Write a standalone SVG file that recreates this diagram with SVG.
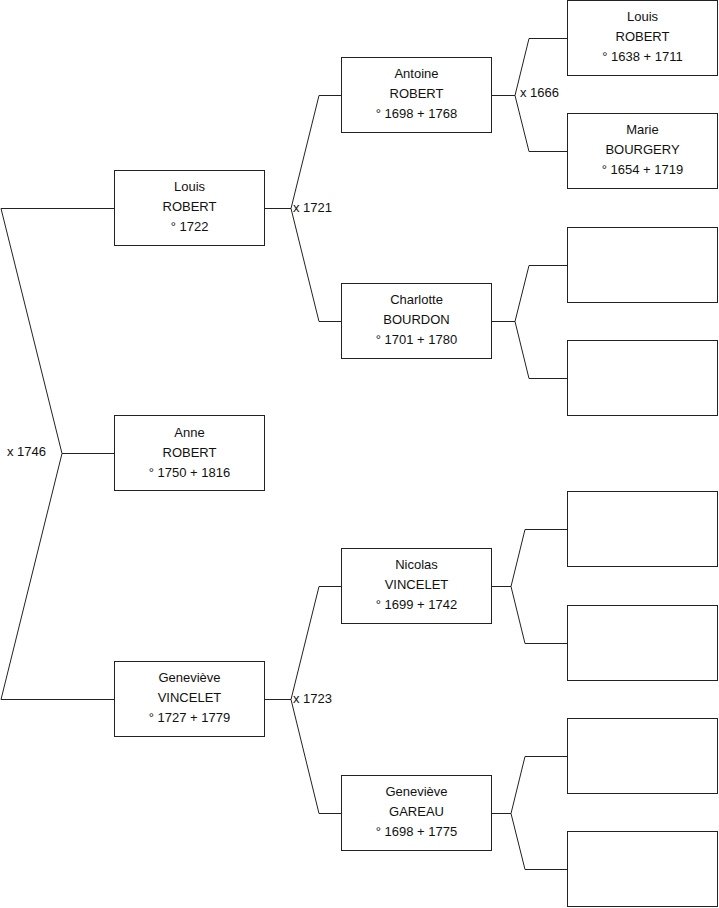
<svg xmlns="http://www.w3.org/2000/svg" width="719" height="908" viewBox="0 0 719 908">
<style>
.box{fill:#fff;stroke:#222;stroke-width:1}
.t{font-family:"Liberation Sans",Arial,sans-serif;font-size:13px;fill:#111;text-anchor:middle}
.lbl{font-family:"Liberation Sans",Arial,sans-serif;font-size:13px;fill:#111}
.c{fill:none;stroke:#222;stroke-width:1}
</style>
<rect width="719" height="908" fill="#fff"/>
<g id="connectors">
<path class="c" d="M114,208.5 H1 L62,453.5 H114 M62,453.5 L1,699.5 H114"/>
<path class="c" d="M265,208.5 H291 L319,95.5 H341 M291,208.5 L319,321.5 H341"/>
<path class="c" d="M265,699.5 H291 L319,586.5 H341 M291,699.5 L319,813.5 H341"/>
<path class="c" d="M492,95.5 H515 L529,38.5 H567 M515,95.5 L529,151.5 H567"/>
<path class="c" d="M492,321.5 H515 L529,265.5 H567 M515,321.5 L529,378.5 H567"/>
<path class="c" d="M492,586.5 H511 L525,529.5 H567 M511,586.5 L525,643.5 H567"/>
<path class="c" d="M492,813.5 H511 L525,756.5 H567 M511,813.5 L525,869.5 H567"/>
<text class="lbl" x="7" y="456">x 1746</text>
<text class="lbl" x="293" y="212">x 1721</text>
<text class="lbl" x="520" y="97">x 1666</text>
<text class="lbl" x="293" y="703">x 1723</text>
</g>
<g id="louis-robert-1722">
<rect class="box" x="114.5" y="170.5" width="150" height="75"/>
<text class="t" x="189.5" y="191">Louis</text>
<text class="t" x="189.5" y="211">ROBERT</text>
<text class="t" x="189.5" y="231">° 1722</text>
</g>
<g id="anne-robert">
<rect class="box" x="114.5" y="415.5" width="150" height="75"/>
<text class="t" x="189.5" y="437">Anne</text>
<text class="t" x="189.5" y="457">ROBERT</text>
<text class="t" x="189.5" y="477">° 1750 + 1816</text>
</g>
<g id="genevieve-vincelet">
<rect class="box" x="114.5" y="661.5" width="150" height="75"/>
<text class="t" x="189.5" y="682">Geneviève</text>
<text class="t" x="189.5" y="702">VINCELET</text>
<text class="t" x="189.5" y="722">° 1727 + 1779</text>
</g>
<g id="antoine-robert">
<rect class="box" x="341.5" y="57.5" width="150" height="75"/>
<text class="t" x="416.5" y="78">Antoine</text>
<text class="t" x="416.5" y="98">ROBERT</text>
<text class="t" x="416.5" y="118">° 1698 + 1768</text>
</g>
<g id="charlotte-bourdon">
<rect class="box" x="341.5" y="283.5" width="150" height="75"/>
<text class="t" x="416.5" y="304">Charlotte</text>
<text class="t" x="416.5" y="324">BOURDON</text>
<text class="t" x="416.5" y="344">° 1701 + 1780</text>
</g>
<g id="nicolas-vincelet">
<rect class="box" x="341.5" y="548.5" width="150" height="75"/>
<text class="t" x="416.5" y="569">Nicolas</text>
<text class="t" x="416.5" y="589">VINCELET</text>
<text class="t" x="416.5" y="609">° 1699 + 1742</text>
</g>
<g id="genevieve-gareau">
<rect class="box" x="341.5" y="775.5" width="150" height="75"/>
<text class="t" x="416.5" y="796">Geneviève</text>
<text class="t" x="416.5" y="816">GAREAU</text>
<text class="t" x="416.5" y="836">° 1698 + 1775</text>
</g>
<g id="louis-robert-1638">
<rect class="box" x="567.5" y="0.5" width="150" height="75"/>
<text class="t" x="642.5" y="21">Louis</text>
<text class="t" x="642.5" y="41">ROBERT</text>
<text class="t" x="642.5" y="61">° 1638 + 1711</text>
</g>
<g id="marie-bourgery">
<rect class="box" x="567.5" y="113.5" width="150" height="75"/>
<text class="t" x="642.5" y="134">Marie</text>
<text class="t" x="642.5" y="154">BOURGERY</text>
<text class="t" x="642.5" y="174">° 1654 + 1719</text>
</g>
<g id="empty-1"><rect class="box" x="567.5" y="227.5" width="150" height="75"/></g>
<g id="empty-2"><rect class="box" x="567.5" y="340.5" width="150" height="75"/></g>
<g id="empty-3"><rect class="box" x="567.5" y="491.5" width="150" height="75"/></g>
<g id="empty-4"><rect class="box" x="567.5" y="605.5" width="150" height="75"/></g>
<g id="empty-5"><rect class="box" x="567.5" y="718.5" width="150" height="75"/></g>
<g id="empty-6"><rect class="box" x="567.5" y="831.5" width="150" height="75"/></g>
</svg>
